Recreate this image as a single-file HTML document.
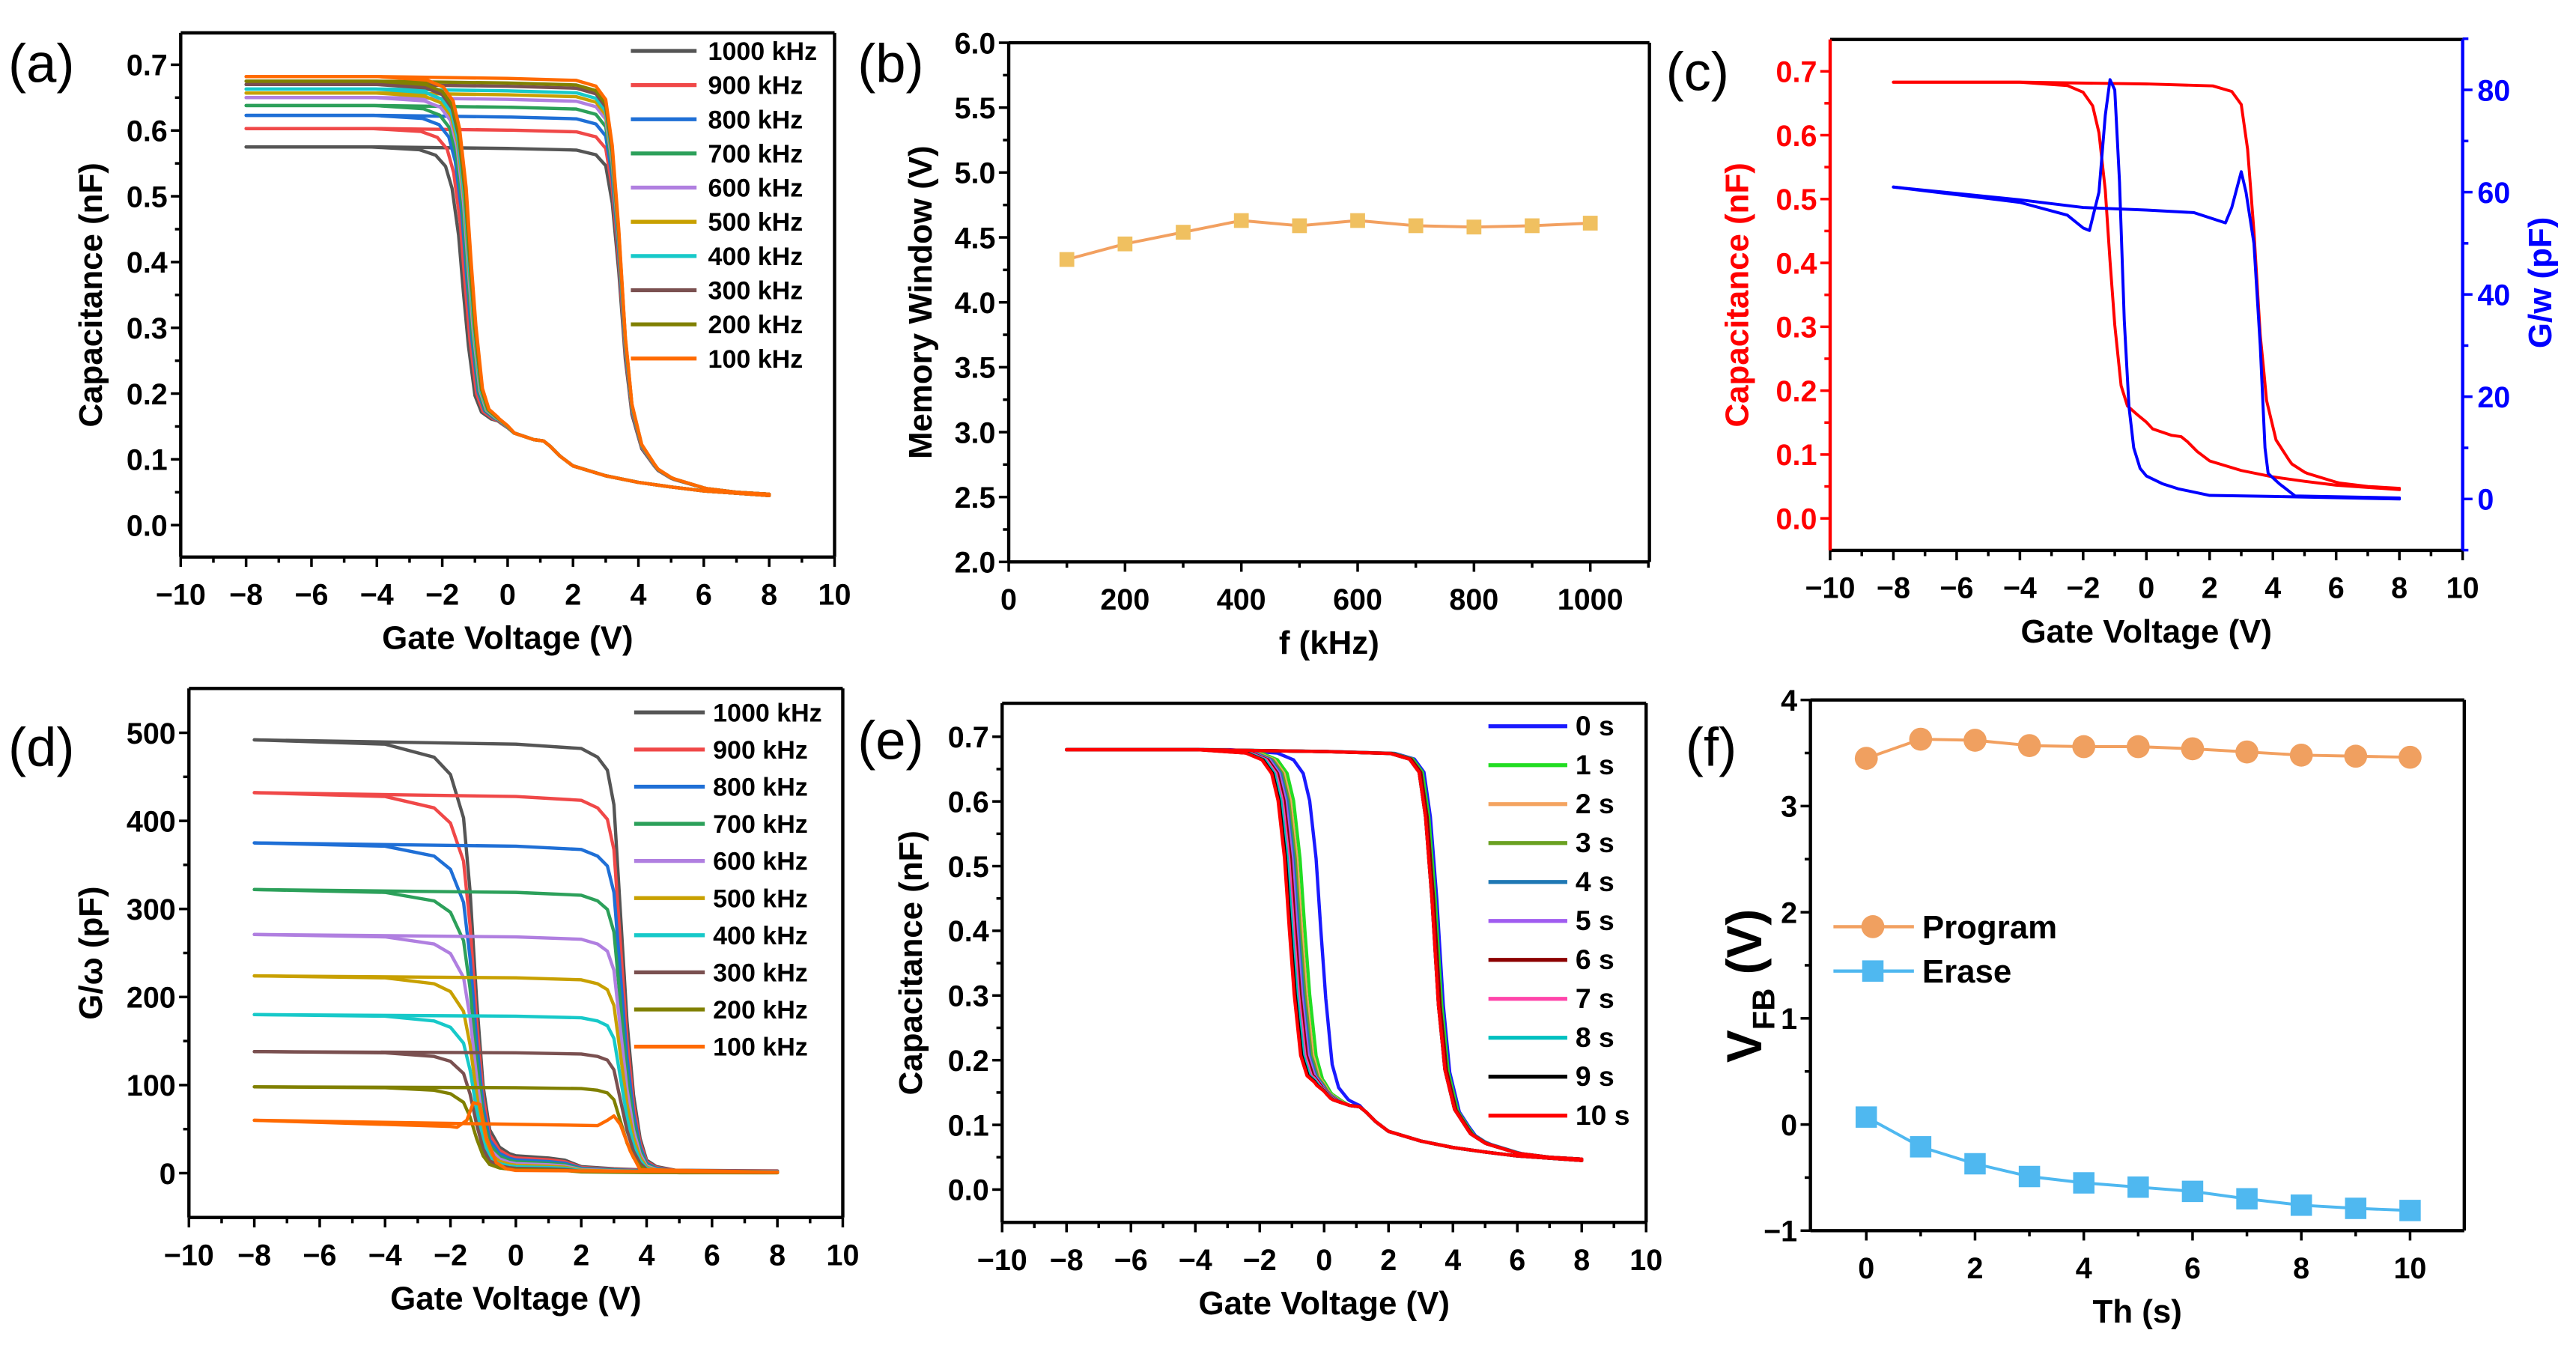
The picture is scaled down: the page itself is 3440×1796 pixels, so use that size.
<!DOCTYPE html>
<html><head><meta charset="utf-8"><style>
html,body{margin:0;padding:0;background:#fff}
svg{display:block}
text{font-family:"Liberation Sans",Arial,sans-serif}
</style></head><body>
<svg id="fig" xmlns="http://www.w3.org/2000/svg" width="3440" height="1796" viewBox="0 0 1568 818.6" preserveAspectRatio="none"></svg>
<script>
// ---------- DATA ----------
const aLabels=["1000 kHz","900 kHz","800 kHz","700 kHz","600 kHz","500 kHz","400 kHz","300 kHz","200 kHz","100 kHz"];
const aColors=["#555555","#f04848","#1f6fd6","#2ca05a","#b07fe0","#c8a000","#17c9c9","#7a5050","#808000","#ff6a00"];
const aCmax=[0.575,0.603,0.623,0.638,0.650,0.657,0.663,0.670,0.675,0.682];
const aShiftL=[-0.2,-0.15,-0.1,-0.08,-0.05,-0.03,-0.02,0,0,0.03];
// C-V branch templates
const cvRV=[-8,-4,0,2,2.6,2.9,3.1,3.3,3.5,3.7,4.0,4.5,5,6,7,8];
const cvRF=[1,1,0.995,0.99,0.975,0.94,0.82,0.6,0.32,0.15,0.06,0.02,0.01,0,0,0];
const cvRLow=[.1,.1,.1,.1,.1,.1,.1,.1,.1,.1,.09,.075,.065,.056,.05,.047];
const cvLV=[-8,-4,-2.5,-2,-1.7,-1.5,-1.3,-1.15,-1.0,-0.8,-0.6,-0.3,0,0.2,0.8,1.1,1.3,1.6,2,3,4,5,6,8];
const cvLF=[1,1,0.99,0.97,0.93,0.85,0.68,0.47,0.28,0.1,0.04,0.015,0.005,0,0,0,0,0,0,0,0,0,0,0];
const cvLLow=[.155,.155,.155,.155,.155,.155,.155,.155,.155,.155,.155,.155,.148,.14,.13,.128,.12,.105,.09,.075,.065,.058,.052,.045];
// panel b
const bFreq=[100,200,300,400,500,600,700,800,900,1000];
const bMW=[4.33,4.45,4.54,4.63,4.59,4.63,4.59,4.58,4.59,4.61];
// panel c G/w
const cGLV=[-8,-4,-2.5,-2,-1.8,-1.5,-1.3,-1.15,-1.0,-0.85,-0.7,-0.55,-0.4,-0.2,0,0.5,1,2,4,8];
const cGLG=[61,58,55.5,53,52.5,60,75,82,80,62,35,18,10,6,4.5,3,2,0.7,0.5,0];
const cGRV=[-8,-4,-2,0,1.5,2,2.5,2.7,3.0,3.15,3.4,3.6,3.75,3.85,4.2,4.7,8];
const cGRG=[61,58.5,57,56.5,56,55,54,57,64,60,50,30,10,5,3,0.6,0.2];
// panel d
const dPlateau=[492,432,375,322,271,224,180,138,98,60];
const gRV=[-8,0,2,2.5,2.8,3.0,3.2,3.4,3.6,3.8,4.0,4.3,5,8];
const gRF=[1,0.99,0.98,0.96,0.93,0.85,0.6,0.35,0.18,0.08,0.03,0.015,0.005,0.005];
const gLV=[-8,-4,-2.5,-2,-1.6,-1.4,-1.2,-1.0,-0.8,-0.5,-0.2,0,1,1.5,2,3,4,8];
const gLF=[1,0.99,0.96,0.92,0.82,0.65,0.4,0.2,0.1,0.06,0.045,0.04,0.035,0.03,0.015,0.01,0.007,0.005];
const d100LV=[-8,-2,-1.8,-1.5,-1.3,-1.1,-0.9,-0.6,-0.3,0,8];
const d100LG=[60,53,52,60,80,78,40,12,5,3,1];
const d100RV=[-8,2.5,2.8,3.0,3.2,3.5,3.8,8];
const d100RG=[60,54,60,65,55,25,4,1];
// panel e
const eLabels=["0 s","1 s","2 s","3 s","4 s","5 s","6 s","7 s","8 s","9 s","10 s"];
const eColors=["#1a1aff","#22dd22","#f4a460","#6aa121","#1f78b4","#a05cf0","#8b0000","#ff44aa","#00c0c0","#000000","#ff0000"];
const eShiftL=[1.05,0.55,0.45,0.4,0.35,0.3,0.25,0.2,0.15,0.1,0.07];
const eShiftR=[0.1,0.05,0,0,0,0,0,-0.05,-0.05,-0.05,-0.05];
// panel f
const fTime=[0,1,2,3,4,5,6,7,8,9,10];
const fProgram=[3.45,3.63,3.62,3.57,3.56,3.56,3.54,3.51,3.48,3.47,3.46];
const fErase=[0.07,-0.21,-0.37,-0.49,-0.55,-0.59,-0.63,-0.7,-0.76,-0.79,-0.81];

// ---------- DRAWING ----------
const NS="http://www.w3.org/2000/svg";
const svg=document.getElementById('fig');
function mk(tag,attrs,parent){const e=document.createElementNS(NS,tag);for(const k in attrs)e.setAttribute(k,attrs[k]);(parent||svg).appendChild(e);return e;}
function lin(v0,p0,v1,p1){return v=>p0+(v-v0)*(p1-p0)/(v1-v0);}
function fmt(v,dec){return (v<0?"\u2212":"")+Math.abs(v).toFixed(dec);}
function interp(X,Y,x){if(x<=X[0])return Y[0];for(let i=1;i<X.length;i++){if(x<=X[i]){const t=(x-X[i-1])/(X[i]-X[i-1]);return Y[i-1]+t*(Y[i]-Y[i-1]);}}return Y[Y.length-1];}

function axes(P){
  const g=mk('g',{});
  
  
  const top=mk('line',{x1:P.l,x2:P.r,y1:P.t,y2:P.t,stroke:'#000','stroke-width':2},g);
  
  const bot=mk('line',{x1:P.l,x2:P.r,y1:P.b,y2:P.b,stroke:'#000','stroke-width':2},g);
  
  const lf=mk('line',{x1:P.l,x2:P.l,y1:P.t,y2:P.b,stroke:P.lc||'#000','stroke-width':2},g);
  
  const rt=mk('line',{x1:P.r,x2:P.r,y1:P.t,y2:P.b,stroke:P.rc||'#000','stroke-width':2},g);
  
  for(let v=P.xt[0];v<=P.xt[1]+1e-9;v+=P.xt[3]){
    const major=Math.abs((v-P.xt[0])/P.xt[2]-Math.round((v-P.xt[0])/P.xt[2]))<1e-6;
    const x=P.X(v);
    const t=mk('line',{x1:x,x2:x,y1:P.b,y2:P.b+(major?6:3.5),stroke:'#000','stroke-width':1.6},g);
    
    if(major){const tx=mk('text',{x:x,y:P.b+29,'font-size':18,'font-weight':'bold','text-anchor':'middle'},g);
      
      tx.textContent=fmt(v,0);}
  }
  for(let v=P.yt[0];v<=P.yt[1]+1e-9;v+=P.yt[3]){
    const major=Math.abs((v-P.yt[0])/P.yt[2]-Math.round((v-P.yt[0])/P.yt[2]))<1e-6;
    const y=P.Y(v);
    const t=mk('line',{x1:P.l,x2:P.l-(major?6:3.5),y1:y,y2:y,stroke:P.lc||'#000','stroke-width':1.6},g);
    
    if(major){const tx=mk('text',{x:P.l-8,y:y+6.5,'font-size':18,'font-weight':'bold','text-anchor':'end',fill:P.lc||'#000'},g);
      
      tx.textContent=fmt(v,P.yt[4]);}
  }
  const xt=mk('text',{x:(P.l+P.r)/2,y:P.b+56,'font-size':20,'font-weight':'bold','text-anchor':'middle'},g);
  
  xt.textContent=P.xtitle;
  const yt=mk('text',{x:0,y:0,'font-size':20,'font-weight':'bold','text-anchor':'middle',fill:P.lc||'#000',transform:`translate(${P.ytx},${(P.t+P.b)/2}) rotate(-90)`},g);
  
  yt.textContent=P.ytitle;
  const pl=mk('text',{x:P.lx,y:P.ly,'font-size':33},g);
  
  pl.textContent=P.label;
}
function poly(pts,P,color,w,name){
  const d=pts.map(p=>P.X(p[0]).toFixed(2)+','+P.Y(p[1]).toFixed(2)).join(' ');
  const e=mk('polyline',{points:d,fill:'none',stroke:color,'stroke-width':w||1.8,'stroke-linejoin':'round','stroke-linecap':'round'});
  
  
  return e;
}
// branch: template F shifted by 'shift', low tail stays fixed
function branch(V,F,L,cmax,shift){
  const xs=[...new Set(V.concat(V.map(v=>v+shift)).filter(v=>v>=-8&&v<=8).map(v=>+v.toFixed(4)))].sort((a,b)=>a-b);
  return xs.map(x=>{const lo=interp(V,L,x);return [x,lo+interp(V,F,x-shift)*(cmax-lo)];});
}
function legend(labels,colors,lx1,lx2,tx,y0,dy,fs){
  labels.forEach((lab,i)=>{
    const y=y0+i*dy;
    const l=mk('line',{x1:lx1,x2:lx2,y1:y,y2:y,stroke:colors[i],'stroke-width':2.4});
    
    
    const t=mk('text',{x:tx,y:y+5.5,'font-size':fs,'font-weight':'bold'});
    
    
    t.textContent=lab;
  });
}

// Panel a
const PA={name:'panel-a',l:110,r:508,t:20,b:339,X:lin(-10,110,10,508),Y:lin(0,319.6,0.7,39.4),
  xt:[-10,10,2,1],yt:[0,0.7,0.1,0.05,1],xtitle:'Gate Voltage (V)',ytitle:'Capacitance (nF)',ytx:62,label:'(a)',lx:5,ly:50};
axes(PA);
aCmax.forEach((c,i)=>{
  poly(branch(cvRV,cvRF,cvRLow,c,0.1),PA,aColors[i],2,'cv-forward-'+aLabels[i].replace(' ','-'));
  poly(branch(cvLV,cvLF,cvLLow,c,aShiftL[i]),PA,aColors[i],2,'cv-reverse-'+aLabels[i].replace(' ','-'));
});
legend(aLabels,aColors,384,424,431,31,20.8,15.5);

// Panel b
const PB={name:'panel-b',l:614,r:1004,t:26,b:342,X:lin(0,614,1000,968),Y:lin(2,342,6,26),
  xt:[0,1100,200,100],yt:[2,6,0.5,0.25,1],xtitle:'f (kHz)',ytitle:'Memory Window (V)',ytx:567,label:'(b)',lx:522,ly:50};
axes(PB);
poly(bFreq.map((f,i)=>[f,bMW[i]]),PB,'#f2a060',1.8,'memory-window-line');
bFreq.forEach((f,i)=>{
  const s=mk('rect',{x:PB.X(f)-4.5,y:PB.Y(bMW[i])-4.5,width:9,height:9,fill:'#f0c060'});
  
  
});

// Panel c
const PC={name:'panel-c',l:1114,r:1499,t:24,b:335,X:lin(-10,1114,10,1499),Y:lin(0,315.5,0.7,43.4),
  xt:[-10,10,2,1],yt:[0,0.7,0.1,0.05,1],xtitle:'Gate Voltage (V)',ytitle:'Capacitance (nF)',ytx:1064,label:'(c)',lx:1014,ly:55,lc:'#ff0000',rc:'#0000ff'};
axes(PC);
const YR=lin(0,303.7,80,54.7);
for(let v=-10;v<=90;v+=10){
  const major=v%20===0;
  const t=mk('line',{x1:PC.r,x2:PC.r+(major?6:3.5),y1:YR(v),y2:YR(v),stroke:'#0000ff','stroke-width':1.6});
  
  
  if(major&&v>=0&&v<=80){const tx=mk('text',{x:PC.r+9,y:YR(v)+6.5,'font-size':18,'font-weight':'bold',fill:'#0000ff'});
    
    
    tx.textContent=String(v);}
}
const y2t=mk('text',{x:0,y:0,'font-size':20,'font-weight':'bold','text-anchor':'middle',fill:'#0000ff',transform:'translate(1553,172) rotate(-90)'});


y2t.textContent='G/w (pF)';
poly(branch(cvRV,cvRF,cvRLow,0.683,0.1),PC,'#ff0000',1.8,'capacitance-forward');
poly(branch(cvLV,cvLF,cvLLow,0.683,0),PC,'#ff0000',1.8,'capacitance-reverse');
const PC2={X:PC.X,Y:YR};
poly(cGLV.map((v,i)=>[v,cGLG[i]]),PC2,'#0000ff',1.8,'conductance-reverse');
poly(cGRV.map((v,i)=>[v,cGRG[i]]),PC2,'#0000ff',1.8,'conductance-forward');

// Panel d
const PD={name:'panel-d',l:115,r:513,t:419,b:741,X:lin(-10,115,10,513),Y:lin(0,714,500,446),
  xt:[-10,10,2,1],yt:[0,500,100,50,0],xtitle:'Gate Voltage (V)',ytitle:'G/\u03c9 (pF)',ytx:62,label:'(d)',lx:5,ly:466};
axes(PD);
dPlateau.forEach((p,i)=>{
  if(i===9){
    poly(d100LV.map((v,k)=>[v,d100LG[k]]),PD,aColors[i],2,'g-reverse-100-kHz');
    poly(d100RV.map((v,k)=>[v,d100RG[k]]),PD,aColors[i],2,'g-forward-100-kHz');
  } else {
    poly(gRV.map((v,k)=>[v,gRF[k]*p]),PD,aColors[i],2,'g-forward-'+aLabels[i].replace(' ','-'));
    poly(gLV.map((v,k)=>[v,gLF[k]*p]),PD,aColors[i],2,'g-reverse-'+aLabels[i].replace(' ','-'));
  }
});
legend(aLabels,aColors,386,429,434,433.6,22.6,15.5);

// Panel e
const PE={name:'panel-e',l:610,r:1002,t:428,b:744,X:lin(-10,610,10,1002),Y:lin(0,724,0.7,448.4),
  xt:[-10,10,2,1],yt:[0,0.7,0.1,0.05,1],xtitle:'Gate Voltage (V)',ytitle:'Capacitance (nF)',ytx:561,label:'(e)',lx:522,ly:462};
axes(PE);
eLabels.forEach((lab,i)=>{
  poly(branch(cvRV,cvRF,cvRLow,0.68,eShiftR[i]+0.1),PE,eColors[i],2,'cv-forward-'+lab.replace(' ','-'));
  poly(branch(cvLV,cvLF,cvLLow,0.68,eShiftL[i]),PE,eColors[i],2,'cv-reverse-'+lab.replace(' ','-'));
});
legend(eLabels,eColors,906,954,959,442,23.7,17);

// Panel f
const PF={name:'panel-f',l:1102,r:1500,t:426,b:749,X:lin(0,1136,10,1467),Y:lin(-1,749,4,426),
  xt:[0,10,2,1],yt:[-1,4,1,0.5,0],xtitle:'Th (s)',ytitle:'',ytx:1070,label:'(f)',lx:1026,ly:466};
axes(PF);
const vfb=mk('text',{x:0,y:0,'font-size':30,'font-weight':'bold','text-anchor':'middle',transform:'translate(1072,600) rotate(-90)'});


vfb.innerHTML='V<tspan font-size="19" dy="8">FB</tspan><tspan dy="-8"> (V)</tspan>';
poly(fTime.map((t,i)=>[t,fProgram[i]]),PF,'#f2a060',1.8,'program-line');
poly(fTime.map((t,i)=>[t,fErase[i]]),PF,'#4fb8f0',1.8,'erase-line');
fTime.forEach((t,i)=>{
  const c=mk('circle',{cx:PF.X(t),cy:PF.Y(fProgram[i]),r:7,fill:'#f0a060'});
  
  
  const s=mk('rect',{x:PF.X(t)-6.5,y:PF.Y(fErase[i])-6.5,width:13,height:13,fill:'#4fb8f0'});
  
  
});
const lp=mk('line',{x1:1116,x2:1165,y1:564,y2:564,stroke:'#f2a060','stroke-width':2});

const lpc=mk('circle',{cx:1140,cy:564,r:7,fill:'#f0a060'});

const lpt=mk('text',{x:1170,y:571,'font-size':20,'font-weight':'bold'});

lpt.textContent='Program';
const le=mk('line',{x1:1116,x2:1165,y1:591,y2:591,stroke:'#4fb8f0','stroke-width':2});

const les=mk('rect',{x:1133.5,y:584.5,width:13,height:13,fill:'#4fb8f0'});

const let_=mk('text',{x:1170,y:598,'font-size':20,'font-weight':'bold'});

let_.textContent='Erase';
</script>
</body></html>
